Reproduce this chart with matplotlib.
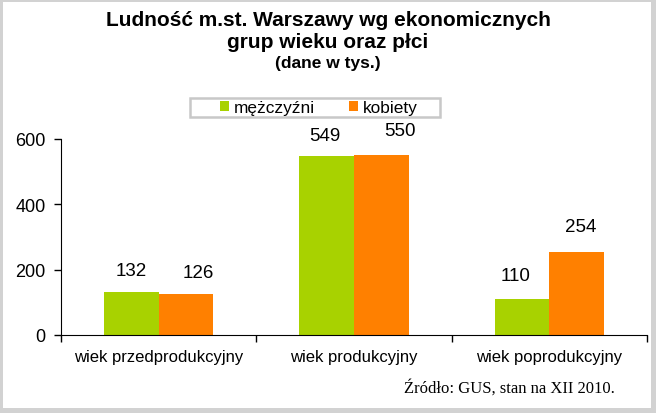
import numpy as np
import matplotlib.pyplot as plt
from matplotlib.patches import Rectangle

# -----------------------------
# Data (thousands of people)
# -----------------------------
categories = ['wiek przedprodukcyjny', 'wiek produkcyjny', 'wiek poprodukcyjny']
men = [132, 549, 110]
women = [126, 550, 254]
series_names = ['mężczyźni', 'kobiety']
y_ticks = [0, 200, 400, 600]

# hand placed value labels in the original (px nudges from bar top centre)
men_nudge = [(0, 21), (-2, 20), (-6, 24)]
women_nudge = [(12, 21), (19, 25), (4, 26)]

green = '#a8d200'
orange = '#ff8000'
W, H = 656, 414

plt.rcParams['font.family'] = ['Liberation Sans', 'DejaVu Sans']

fig = plt.figure(figsize=(W / 100, H / 100), dpi=100)
ax = fig.add_axes([61 / W, 1 - 336 / H, 586 / W, 196 / H])

x = np.arange(len(categories))
w = 0.28
b1 = ax.bar(x - w / 2, men, w, color=green, label=series_names[0])
b2 = ax.bar(x + w / 2, women, w, color=orange, label=series_names[1])

px = 72 / 100  # pixels -> points
for bars, nudges in ((b1, men_nudge), (b2, women_nudge)):
    for rect, (dx, dy) in zip(bars, nudges):
        ax.annotate(f'{rect.get_height():.0f}',
                    (rect.get_x() + rect.get_width() / 2, rect.get_height()),
                    xytext=(dx * px, dy * px), textcoords='offset points',
                    ha='center', va='center', fontsize=13.5)

ax.set_xlim(-0.5, 2.5)
ax.set_ylim(0, 600)
ax.set_yticks(y_ticks)
ax.tick_params(axis='y', labelsize=13, length=5, width=1, pad=6)
ax.set_xticks(x)
ax.set_xticklabels(categories)
ax.set_xticks([-0.5, 0.5, 1.5, 2.5], minor=True)
ax.tick_params(axis='x', which='major', length=0, labelsize=12, pad=10)
ax.tick_params(axis='x', which='minor', length=5, width=1)
for s in ['top', 'right']:
    ax.spines[s].set_visible(False)

# Title
fig.text(0.5, 1 - 26 / H, 'Ludność m.st. Warszawy wg ekonomicznych',
         ha='center', va='baseline', fontsize=15, fontweight='bold')
fig.text(0.5, 1 - 48 / H, 'grup wieku oraz płci',
         ha='center', va='baseline', fontsize=15, fontweight='bold')
fig.text(0.5, 1 - 68 / H, '(dane w tys.)', ha='center', va='baseline',
         fontsize=12.5, fontweight='bold')

# Legend (entries without frame, box drawn separately to get the wide padding)
fig.legend(loc='center', bbox_to_anchor=(318.5 / W, 1 - 108.5 / H), ncol=2,
           fontsize=12.4, frameon=False,
           handlelength=0.55, handleheight=0.55, handletextpad=0.25,
           columnspacing=2.0, borderpad=0, borderaxespad=0)
fig.patches.append(Rectangle((190 / W, 1 - 118 / H), 250 / W, 19 / H,
                             transform=fig.transFigure, fill=False,
                             edgecolor='#c8c8c8', linewidth=1.8))

# Source
fig.text(615 / W, 1 - 388 / H, 'Źródło: GUS, stan na XII 2010.', ha='right', va='center',
         fontsize=12, family=['Liberation Serif', 'DejaVu Serif'])

# Figure border (slightly heavier on right/bottom)
border = '#d2d2d2'
for rx, ry, rw, rh in [(0, 0, 3, H), (0, 0, W, 3), (W - 5, 0, 5, H), (0, H - 5, W, 5)]:
    fig.patches.append(Rectangle((rx / W, 1 - (ry + rh) / H), rw / W, rh / H,
                                 transform=fig.transFigure, color=border, lw=0))

fig.savefig('out.png', dpi=100)
